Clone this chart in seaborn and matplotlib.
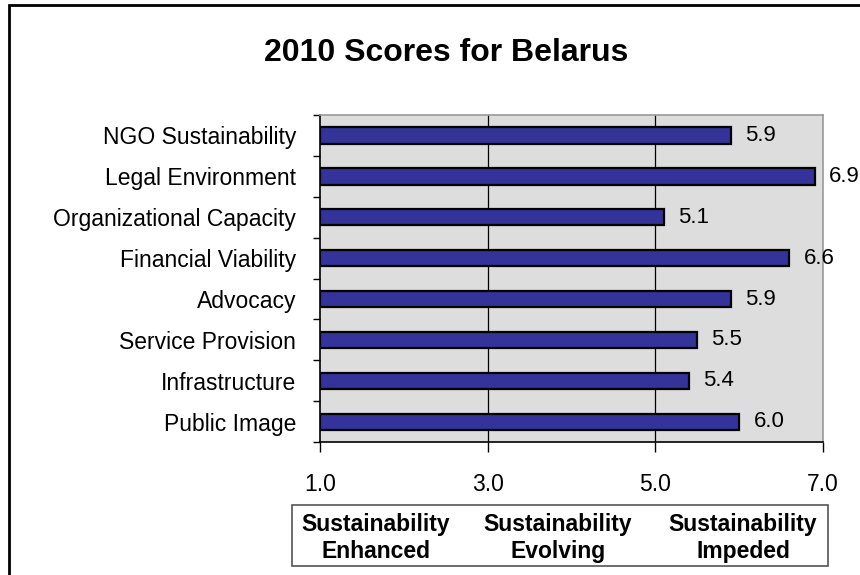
import matplotlib

matplotlib.use("Agg")
import matplotlib.pyplot as plt
import pandas as pd
import seaborn as sns
from matplotlib.patches import Rectangle

categories = [
    "NGO Sustainability",
    "Legal Environment",
    "Organizational Capacity",
    "Financial Viability",
    "Advocacy",
    "Service Provision",
    "Infrastructure",
    "Public Image",
]
scores = [5.9, 6.9, 5.1, 6.6, 5.9, 5.5, 5.4, 6.0]
x_ticks = [1.0, 3.0, 5.0, 7.0]
zones = ["Sustainability\nEnhanced", "Sustainability\nEvolving", "Sustainability\nImpeded"]

sns.set_theme(style="white")
plt.rcParams["font.family"] = ["Liberation Sans", "DejaVu Sans"]
plt.rcParams["text.color"] = "black"
plt.rcParams["xtick.color"] = "black"
plt.rcParams["ytick.color"] = "black"
plt.rcParams["axes.labelcolor"] = "black"

df = pd.DataFrame({"category": categories, "score": scores})
df["span"] = df["score"] - 1.0

fig = plt.figure(figsize=(8.6, 5.75), dpi=100)
ax = fig.add_axes([0.372, 0.231, 0.585, 0.569])
ax.set_facecolor("#dddddd")

sns.barplot(
    data=df,
    x="span",
    y="category",
    order=categories,
    orient="h",
    color="#333399",
    saturation=1,
    edgecolor="black",
    linewidth=1.6,
    width=0.4,
    left=1.0,
    ax=ax,
)

for i, v in enumerate(scores):
    ax.text(v + 0.17, i, f"{v:.1f}", va="center", ha="left", fontsize=16, color="black")

ax.set_xlim(1, 7)
ax.set_ylim(7.5, -0.5)
ax.set_xticks(x_ticks)
ax.set_xticklabels([f"{t:.1f}" for t in x_ticks], fontsize=16.5)
ax.tick_params(axis="x", direction="out", length=7, width=1, color="black", pad=15, bottom=True)
ax.tick_params(axis="y", which="major", length=0, pad=17, labelsize=16.5)
ax.set_yticks([i - 0.5 for i in range(len(categories) + 1)], minor=True)
ax.tick_params(axis="y", which="minor", direction="out", length=5, width=1, color="black", left=True)
ax.set_xlabel("")
ax.set_ylabel("")

for g in [3.0, 5.0]:
    ax.axvline(g, color="black", linewidth=0.9, zorder=0)

ax.spines["left"].set_color("black")
ax.spines["bottom"].set_color("black")
ax.spines["top"].set_color("#999999")
ax.spines["right"].set_color("#999999")
for s in ax.spines.values():
    s.set_linewidth(1.2)

fig.text(0.519, 0.908, "2010 Scores for Belarus", ha="center", va="center",
         fontsize=23, fontweight="bold")

fig.patches.append(Rectangle((0.3395, 0.0157), 0.623, 0.106, transform=fig.transFigure,
                             fill=False, edgecolor="#555555", linewidth=1.2))
for xc, label in zip([0.437, 0.649, 0.864], zones):
    fig.text(xc, 0.064, label, ha="center", va="center", fontsize=16.5,
             fontweight="bold", linespacing=1.25)

# outer frame: only left and top edges fall inside the canvas
fig.patches.append(Rectangle((0.0105, -0.05), 1.1, 1.0413, transform=fig.transFigure,
                             fill=False, edgecolor="black", linewidth=2))

fig.savefig("out.png", dpi=100)
